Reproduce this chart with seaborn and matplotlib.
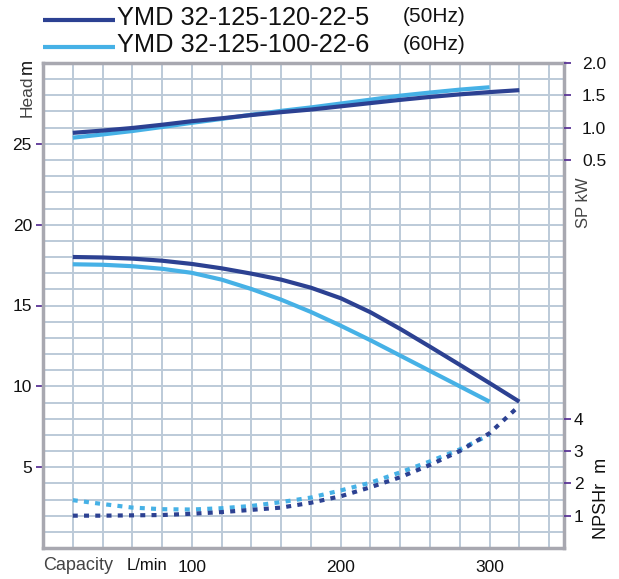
import matplotlib
matplotlib.use("Agg")
import matplotlib.pyplot as plt
from matplotlib.lines import Line2D
from matplotlib.ticker import MultipleLocator, FixedLocator
import seaborn as sns

sns.set_theme(style="white")
plt.rcParams['font.family'] = ['Liberation Sans', 'DejaVu Sans']

# ---------------- data ----------------
capacity_50 = [20, 40, 60, 80, 100, 120, 140, 160, 180, 200, 220, 240, 260, 280, 300, 320]
head_50 = [18.0, 17.97, 17.9, 17.77, 17.57, 17.3, 16.97, 16.6, 16.1, 15.45, 14.58, 13.55, 12.45, 11.33, 10.2, 9.05]
power_50 = [0.92, 0.955, 0.995, 1.045, 1.10, 1.145, 1.195, 1.24, 1.28, 1.33, 1.38, 1.43, 1.475, 1.515, 1.55, 1.58]
npsh_50 = [1.0, 1.0, 1.01, 1.02, 1.06, 1.11, 1.18, 1.25, 1.4, 1.6, 1.88, 2.19, 2.57, 3.0, 3.55, 4.4]

capacity_60 = [20, 40, 60, 80, 100, 120, 140, 160, 180, 200, 220, 240, 260, 280, 300]
head_60 = [17.55, 17.52, 17.43, 17.27, 17.02, 16.6, 16.02, 15.36, 14.6, 13.75, 12.85, 11.9, 10.95, 10.0, 9.05]
power_60 = [0.845, 0.895, 0.948, 1.01, 1.075, 1.135, 1.2, 1.26, 1.313, 1.373, 1.433, 1.495, 1.543, 1.588, 1.625]
npsh_60 = [1.48, 1.36, 1.25, 1.2, 1.19, 1.23, 1.3, 1.42, 1.56, 1.78, 2.02, 2.34, 2.68, 3.05, 3.5]

series_labels = ["YMD 32-125-120-22-5", "YMD 32-125-100-22-6"]
freq_labels = ["(50Hz)", "(60Hz)"]
x_ticks = [100, 200, 300]
head_ticks = [5, 10, 15, 20, 25]
sp_ticks = [0.5, 1.0, 1.5, 2.0]
npsh_ticks = [1, 2, 3, 4]

DARK = "#2c4192"
LIGHT = "#46b1e6"
GRID = "#bccad8"
FRAME = "#a8a8b0"
TICK = "#5a3596"

W, H = 619, 579
fig = plt.figure(figsize=(W / 100, H / 100), dpi=100)
fig.patch.set_facecolor("white")

L, R, T, B = 43, 564, 63, 548
ax = fig.add_axes([L / W, 1 - B / H, (R - L) / W, (B - T) / H])
ax.set_xlim(0, 350)
ax.set_ylim(0, 30)

# grid
ax.xaxis.set_major_locator(FixedLocator(x_ticks))
ax.xaxis.set_minor_locator(MultipleLocator(20))
ax.yaxis.set_major_locator(FixedLocator(head_ticks))
ax.yaxis.set_minor_locator(MultipleLocator(1))
ax.grid(which="both", color=GRID, lw=1.4, zorder=0)
ax.set_axisbelow(True)
ax.tick_params(which="minor", length=0)
ax.tick_params(which="major", direction="out", length=5, width=1.3, color=TICK,
               labelsize=12.5, labelcolor="#111111", pad=3)
ax.tick_params(axis="x", which="major", pad=4)

for s in ax.spines.values():
    s.set_color(FRAME)
    s.set_linewidth(2.5)

lw_solid = 3.0
dots = (0, (1.2, 1.5))

# head curves
sns.lineplot(x=capacity_50, y=head_50, ax=ax, color=DARK, lw=lw_solid, solid_capstyle="butt")
sns.lineplot(x=capacity_60, y=head_60, ax=ax, color=LIGHT, lw=lw_solid, solid_capstyle="butt")

# SP axis (kW)
ax_sp = ax.twinx()
ax_sp.set_ylim(-5.5, 2.0)
sns.lineplot(x=capacity_60, y=power_60, ax=ax_sp, color=LIGHT, lw=lw_solid, solid_capstyle="butt")
sns.lineplot(x=capacity_50, y=power_50, ax=ax_sp, color=DARK, lw=lw_solid, solid_capstyle="butt")
ax_sp.set_yticks(sp_ticks)
ax_sp.set_yticklabels([f"{v:.1f}" for v in sp_ticks])
ax_sp.tick_params(axis="y", direction="out", length=5, width=1.3, color=TICK,
                  labelsize=12.5, labelcolor="#111111", pad=8)

# NPSH axis
ax_np = ax.twinx()
ax_np.set_ylim(0, 15)
sns.lineplot(x=capacity_60, y=npsh_60, ax=ax_np, color=LIGHT, lw=3.0, linestyle=dots)
sns.lineplot(x=capacity_50, y=npsh_50, ax=ax_np, color=DARK, lw=3.0, linestyle=dots)
ax_np.set_yticks(npsh_ticks)
ax_np.tick_params(axis="y", direction="out", length=5, width=1.3, color=TICK,
                  labelsize=12.5, labelcolor="#111111", pad=2)

for a in (ax_sp, ax_np):
    a.set_xlim(0, 350)
    a.grid(False)
    for s in a.spines.values():
        s.set_visible(False)
    a.set_ylabel("")
ax.set_xlabel("")
ax.set_ylabel("")

# axis titles
fig.text(27 / W, 1 - 96 / H, "Head", rotation=90, ha="center", va="center",
         fontsize=12.5, color="#444444")
fig.text(27 / W, 1 - 67 / H, "m", rotation=90, ha="center", va="center",
         fontsize=13, color="#111111")
fig.text(584 / W, 1 - 203 / H, "SP kW", rotation=90, ha="center", va="center",
         fontsize=12, color="#444444")
fig.text(601 / W, 1 - 498 / H, "NPSHr  m", rotation=90, ha="center", va="center",
         fontsize=13, color="#111111")
fig.text(43 / W, 1 - 566 / H, "Capacity", ha="left", va="center",
         fontsize=13, color="#444444")
fig.text(127 / W, 1 - 565 / H, "L/min", ha="left", va="center",
         fontsize=12, color="#111111")

# legend
rows = [(18, 20, DARK), (45, 47, LIGHT)]
for (ty, ly, col), lab, fq in zip(rows, series_labels, freq_labels):
    fig.add_artist(Line2D([43 / W, 115 / W], [1 - ly / H, 1 - ly / H], color=col,
                          lw=3.0, solid_capstyle="butt"))
    fig.text(117 / W, 1 - ty / H, lab, ha="left", va="center", fontsize=18.3, color="#111111")
    fig.text(403 / W, 1 - (ty - 1) / H, fq, ha="left", va="center", fontsize=15, color="#111111")

fig.savefig("out.png", dpi=100, facecolor="white")
